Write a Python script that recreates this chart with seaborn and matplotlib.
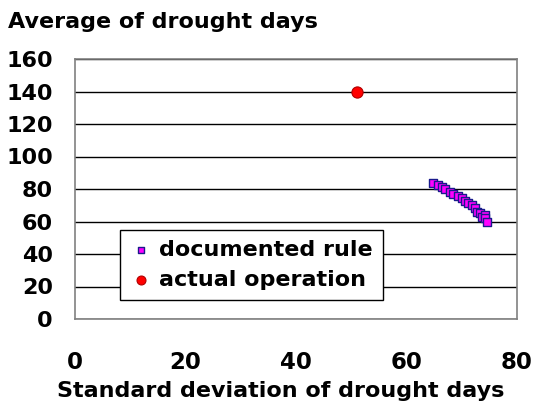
import matplotlib
matplotlib.use("Agg")
import matplotlib.pyplot as plt
import seaborn as sns
import pandas as pd

rule_sd = [64.8, 65.7, 66.4, 67.0, 67.9, 68.4, 69.3, 70.0, 70.6, 71.1, 71.9, 72.4, 72.8, 73.3, 73.7, 74.2, 74.2, 74.6]
rule_avg = [83.7, 82.5, 81.2, 80.0, 78.2, 76.9, 75.7, 74.5, 72.6, 71.4, 70.2, 68.3, 65.8, 65.2, 62.8, 64.0, 62.2, 59.7]
actual_sd = [51.0]
actual_avg = [140.0]

xticks = [0, 20, 40, 60, 80]
yticks = [0, 20, 40, 60, 80, 100, 120, 140, 160]

sns.set_style("white")
plt.rcParams['font.family'] = ['DejaVu Sans']
plt.rcParams['font.weight'] = 'bold'
plt.rcParams['text.color'] = 'black'
plt.rcParams['xtick.color'] = 'black'
plt.rcParams['ytick.color'] = 'black'

fig = plt.figure(figsize=(5.33, 4.05), dpi=100)
ax = fig.add_axes([75/533, 1 - 319/405, 442/533, 260/405])

df_rule = pd.DataFrame({"sd": rule_sd, "avg": rule_avg})
df_act = pd.DataFrame({"sd": actual_sd, "avg": actual_avg})

sns.scatterplot(data=df_rule, x="sd", y="avg", ax=ax, marker="s", s=38,
                color="#ff00ff", edgecolor="#1a1a8c", linewidth=1.0,
                label="documented rule", zorder=3)
sns.scatterplot(data=df_act, x="sd", y="avg", ax=ax, marker="o", s=65,
                color="#ff0000", edgecolor="#b00000", linewidth=0.8,
                label="actual operation", zorder=3)

ax.set_xlim(0, 80)
ax.set_ylim(0, 160)
ax.set_xticks(xticks)
ax.set_yticks(yticks)
ax.yaxis.grid(True, color="black", linewidth=1.0)
ax.xaxis.grid(False)
ax.set_axisbelow(True)
for s in ax.spines.values():
    s.set_color("#808080")
    s.set_linewidth(1.2)
ax.tick_params(axis="both", length=0, labelcolor="black")
ax.tick_params(axis="x", pad=23, labelsize=16.5)
ax.tick_params(axis="y", pad=16, labelsize=16)
for lab in ax.get_xticklabels() + ax.get_yticklabels():
    lab.set_fontweight("bold")
ax.set_xlabel("")
ax.set_ylabel("")

fig.text(8/533, 1 - 22/405, "Average of drought days", fontsize=16, fontweight="bold",
         ha="left", va="center", color="black")
fig.text(281/533, 1 - 391/405, "Standard deviation of drought days", fontsize=16,
         fontweight="bold", ha="center", va="center", color="black")

leg = ax.legend(loc="lower left", bbox_to_anchor=((120 - 75) / 442, (319 - 300) / 260),
                frameon=True, fancybox=False, framealpha=1, edgecolor="black",
                prop={"size": 16, "weight": "bold"}, handletextpad=0.3,
                borderpad=0.45, labelspacing=0.45, handlelength=1.0, borderaxespad=0,
                markerscale=0.8)
leg.get_frame().set_linewidth(1.0)
for t in leg.get_texts():
    t.set_color("black")

fig.savefig("out.png", dpi=100)
